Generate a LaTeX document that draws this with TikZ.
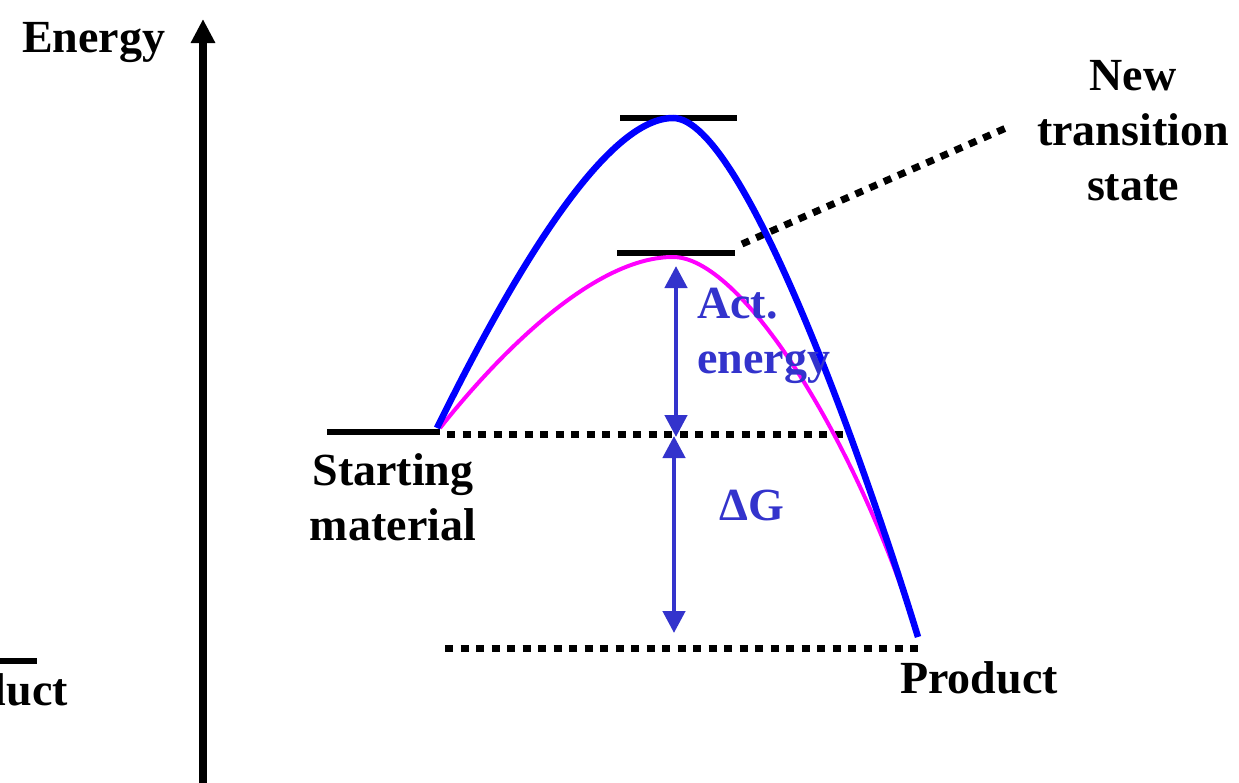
\documentclass[tikz,border=0pt]{standalone}
\usepackage{fontspec}
\setmainfont{Liberation Serif}
\usetikzlibrary{arrows.meta}
\definecolor{actblue}{HTML}{3333CC}
\definecolor{curveblue}{HTML}{0000FF}
\definecolor{curvemag}{HTML}{FF00FF}
\tikzset{
  lbl/.style={font=\fontsize{46}{55}\selectfont\bfseries, inner sep=0pt},
  bluelbl/.style={lbl, text=actblue},
  level/.style={line width=6pt},
  dotline/.style={line width=7pt, dash pattern=on 8pt off 7.5pt},
  dblarrow/.style={actblue, line width=4.5pt, {Triangle[width=22pt,length=22pt]}-{Triangle[width=22pt,length=22pt]}, shorten <=0pt, shorten >=0pt},
}
\begin{document}
\begin{tikzpicture}[x=1pt,y=-1pt]
\useasboundingbox (0,0) rectangle (1239,782);
\clip (0,0) rectangle (1239,782);

% axis
\coordinate (axb) at (203,790);
\coordinate (axt) at (203,19);
\draw[line width=7.5pt, -{Triangle[width=23pt,length=24pt]}] (axb) -- (axt);
\node[lbl, anchor=base west] (energy) at (22,52) {Energy};

% clipped product level on the left
\coordinate (pl1) at (-5,661);
\coordinate (pl2) at (37,661);
\draw[level] (pl1) -- (pl2);
\node[lbl, anchor=base east] (prodleft) at (68,705) {Product};

% energy levels
\coordinate (sm1) at (327,432);
\coordinate (sm2) at (440,432);
\draw[level] (sm1) -- (sm2);
\coordinate (ts1) at (620,118);
\coordinate (ts2) at (737,118);
\draw[level] (ts1) -- (ts2);
\coordinate (nts1) at (617,253);
\coordinate (nts2) at (735,253);
\draw[level] (nts1) -- (nts2);

% dotted lines
\coordinate (d1a) at (447,434);
\coordinate (d1b) at (850,434);
\draw[dotline] (d1a) -- (d1b);
\coordinate (d2a) at (445,648);
\coordinate (d2b) at (922,648);
\draw[dotline] (d2a) -- (d2b);
\coordinate (d3a) at (742,244);
\coordinate (d3b) at (1006,128);
\draw[dotline] (d3a) -- (d3b);

% curves
\coordinate (bstart) at (437,428);
\coordinate (bpeak) at (673,118);
\coordinate (bend) at (918,637);
\draw[curvemag, line width=4pt]
  (440,428) .. controls (510,340) and (600,257) .. (673,257)
  .. controls (740,257) and (850,430) .. (912,618);
\draw[curveblue, line width=6.5pt]
  (bstart) .. controls (500,300) and (600,118) .. (bpeak)
  .. controls (745,118) and (870,480) .. (bend);

% arrows
\coordinate (a1t) at (676,266);
\coordinate (a1b) at (676,437);
\draw[dblarrow] (a1b) -- (a1t);
\coordinate (a2t) at (674,436);
\coordinate (a2b) at (674,633);
\draw[dblarrow] (a2t) -- (a2b);

% labels
\node[bluelbl, anchor=base west, align=left] (act) at (697,373) {Act.\\energy};
\node[bluelbl, anchor=base west] (dg) at (719,520) {ΔG};
\node[lbl, anchor=base, align=center] (sm) at (393,540) {Starting\\material};
\node[lbl, anchor=base, align=center] (nts) at (1133,200) {New\\transition\\state};
\node[lbl, anchor=base west] (prod) at (900,693) {Product};
\end{tikzpicture}
\end{document}
